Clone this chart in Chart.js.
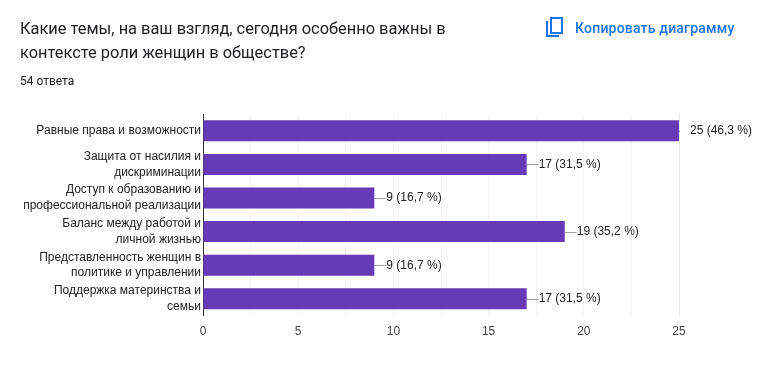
<!DOCTYPE html>
<html><head><meta charset="utf-8">
<script src="https://cdn.jsdelivr.net/npm/chart.js@4"></script>
<style>
html,body{margin:0;padding:0;background:#fff;width:761px;height:374px;overflow:hidden}
#c{position:absolute;left:0;top:0}
.t{position:absolute;white-space:nowrap}
#title{left:20px;top:17px;font:400 16.4px/24px Roboto,sans-serif;color:#202124}
#sub{left:20px;top:73px;font:400 12px/16px Roboto,sans-serif;color:#202124}
#copy{left:575px;top:19px;font:500 14px/18px Roboto,sans-serif;color:#1a73e8;letter-spacing:.2px}
#icon{position:absolute;left:544px;top:16px}
</style></head><body>
<canvas id="c" width="761" height="374"></canvas>
<div class="t" id="title">Какие темы, на ваш взгляд, сегодня особенно важны в<br>контексте роли женщин в обществе?</div>
<div class="t" id="sub">54 ответа</div>
<svg id="icon" width="20" height="22" viewBox="0 0 20 22"><path fill="none" stroke="#1a73e8" stroke-width="2" d="M7 2h11v15H7zM3 5v15h12"/></svg>
<div class="t" id="copy">Копировать диаграмму</div>
<script>
const categories=[["Равные права и возможности"],["Защита от насилия и","дискриминации"],["Доступ к образованию и","профессиональной реализации"],["Баланс между работой и","личной жизнью"],["Представленность женщин в","политике и управлении"],["Поддержка материнства и","семьи"]];
const counts=[25,17,9,19,9,17];
const valueLabels=["25 (46,3 %)","17 (31,5 %)","9 (16,7 %)","19 (35,2 %)","9 (16,7 %)","17 (31,5 %)"];
const barColor="#673ab7";
const leaders={id:'leaders',afterDatasetsDraw(ch){
  const {ctx}=ch,m=ch.getDatasetMeta(0);
  ctx.save();ctx.font='12px "Liberation Sans",Arial,sans-serif';ctx.textBaseline='middle';
  m.data.forEach((b,i)=>{
    const x=b.x,y=Math.round(b.y)+.5;
    const full=counts[i]===Math.max(...counts);
    ctx.strokeStyle='#9e9e9e';ctx.lineWidth=1;ctx.beginPath();ctx.moveTo(x,y);ctx.lineTo(x+(full?1:12),y);ctx.stroke();
    ctx.fillStyle='#222';ctx.fillText(valueLabels[i],x+(full?11:12),b.y);
  });ctx.restore();}};
new Chart(document.getElementById('c'),{type:'bar',
 data:{labels:categories,datasets:[{data:counts,backgroundColor:barColor,categoryPercentage:1,barPercentage:.625}]},
 plugins:[leaders],
 options:{indexAxis:'y',responsive:false,animation:false,
  layout:{padding:{left:0,right:82,top:114,bottom:26}},
  plugins:{legend:{display:false},tooltip:{enabled:false}},
  scales:{
   x:{min:0,max:25,ticks:{stepSize:2.5,maxRotation:0,padding:9,color:'#444',font:{family:'"Liberation Sans",Arial,sans-serif',size:12},callback:v=>Number.isInteger(v)?v:''},
      grid:{color:c=>c.index===10?'#e8e8e8':'#f3f3f3',drawTicks:false},border:{display:false}},
   y:{afterFit(s){s.width=203},ticks:{padding:2,color:'#222',autoSkip:false,font:{family:'"Liberation Sans",Arial,sans-serif',size:12,lineHeight:1.33}},
      grid:{display:false,drawTicks:false},border:{display:true,color:'#333',width:1}}
  }}});
</script></body></html>
